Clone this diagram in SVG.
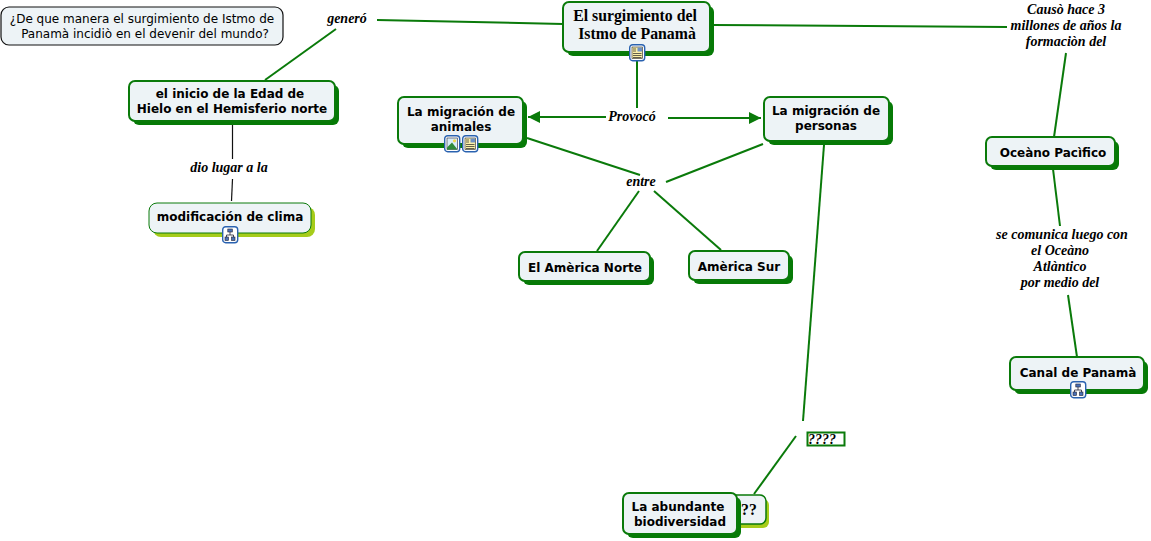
<svg xmlns="http://www.w3.org/2000/svg" width="1151" height="541" viewBox="0 0 1151 541">
<style>
.s{fill:#067a06}.l{fill:#a6cc1a}
.b{fill:#edf3f6;stroke:#0a7a0a;stroke-width:2}
.t{font:bold 12px "DejaVu Sans",Verdana,sans-serif;fill:#000;text-anchor:middle}
.m{font:bold 15.800px "Liberation Serif",serif;fill:#000;text-anchor:middle}
.c{font:italic bold 14px "Liberation Serif",serif;fill:#000;text-anchor:middle}
.q{font:12px "DejaVu Sans",Verdana,sans-serif;fill:#000;text-anchor:middle}
.g path,.g line{stroke:#0a7a0a;stroke-width:2;fill:none}
.g .k{stroke:#111;stroke-width:1.2}
.ic{fill:#fff;stroke:#2a62b0;stroke-width:1.4}
</style>
<defs>
<g id="doc"><rect class="ic" x="0.700" y="0.700" width="15" height="16" rx="3"/><rect x="3" y="3" width="10.500" height="11.500" fill="#fbf0a8" stroke="#222" stroke-width=".6"/><path d="M4 5h3M4 7h3M4 9.500h8.500M4 11.500h8.500M4 13.500h8.500" stroke="#222" stroke-width=".7"/><rect x="8.500" y="3.500" width="4.500" height="4" fill="#6d8fc4"/></g>
<g id="pic"><rect class="ic" x="0.700" y="0.700" width="15" height="16" rx="3"/><rect x="3" y="3" width="10.500" height="11.500" fill="#d8ecf8" stroke="#223" stroke-width=".6"/><path d="M3 14.500v-2l5-5 5.500 7z" fill="#2f8a3a"/><circle cx="10.500" cy="5.800" r="1.600" fill="#f2d84a"/></g>
<g id="map"><rect class="ic" x="0.700" y="0.700" width="15" height="16" rx="3"/><path d="M8 6v3M4.500 11V9h7v2" stroke="#223" stroke-width=".8" fill="none"/><rect x="5.800" y="3" width="4.500" height="3" fill="#4a70b5" stroke="#223" stroke-width=".6"/><rect x="3" y="11" width="3.500" height="3.500" fill="#4a70b5" stroke="#223" stroke-width=".6"/><rect x="9.500" y="11" width="3.500" height="3.500" fill="#4a70b5" stroke="#223" stroke-width=".6"/></g>
<marker id="a" markerUnits="userSpaceOnUse" markerWidth="12" markerHeight="12" refX="12" refY="6" orient="auto"><path d="M0 0L12 6L0 12z" fill="#0a7a0a"/></marker>
</defs>
<g id="connectors" class="g">
<path d="M377 20L563 24"/>
<path d="M336 29L265 80"/>
<path d="M712 25L1007 27"/>
<path d="M637 60V108"/>
<path d="M606 117H528" marker-end="url(#a)"/>
<path d="M668 118H761" marker-end="url(#a)"/>
<path d="M527 138L640 175"/>
<path d="M763 144L666 182"/>
<path d="M639 191L597 251"/>
<path d="M654 191L721 250"/>
<path d="M824 145L803 421"/>
<path d="M796 436L754 494"/>
<path d="M1066 53L1054 137"/>
<path d="M1053 169L1060 226"/>
<path d="M1068 295L1077 357"/>
<line class="k" x1="232.500" y1="125" x2="232.500" y2="159"/>
<line class="k" x1="232.500" y1="179" x2="231.500" y2="201"/>
</g>
<g id="n-pregunta"><rect x="1" y="7" width="282" height="38" rx="8" fill="#edf3f6" stroke="#111" stroke-width="1.200"/><text class="q" x="142" y="23">¿De que manera el surgimiento de Istmo de</text><text class="q" x="145" y="38">Panamà incidiò en el devenir del mundo?</text></g>
<g id="n-inicio"><rect class="s" x="133" y="85" width="206" height="40" rx="6"/><rect class="b" x="129" y="81" width="206" height="40" rx="6"/><text class="t" x="230" y="98">el inicio de la Edad de</text><text class="t" x="232" y="113">Hielo en el Hemisferio norte</text></g>
<g id="n-clima"><rect class="l" x="153" y="207" width="162" height="30" rx="8"/><rect x="149" y="203" width="162" height="30" rx="8" fill="#edf3f6" stroke="#0a7a0a" stroke-width="1"/><text class="t" x="230" y="221">modificación de clima</text><use href="#map" x="222" y="226"/></g>
<g id="n-istmo"><rect class="s" x="567" y="6" width="147" height="50" rx="6"/><rect class="b" x="563" y="2" width="147" height="50" rx="6"/><text class="m" x="635" y="21">El surgimiento del</text><text class="m" x="637" y="39">Istmo de Panamà</text><use href="#doc" x="629" y="44"/></g>
<g id="n-animales"><rect class="s" x="402" y="101" width="125" height="47" rx="6"/><rect class="b" x="398" y="97" width="125" height="47" rx="6"/><text class="t" x="461" y="116">La migración de</text><text class="t" x="461" y="131">animales</text><use href="#pic" x="444" y="135"/><use href="#doc" x="462" y="135"/></g>
<g id="n-personas"><rect class="s" x="768" y="101" width="125" height="44" rx="6"/><rect class="b" x="764" y="97" width="125" height="44" rx="6"/><text class="t" x="826" y="115">La migración de</text><text class="t" x="826" y="130">personas</text></g>
<g id="n-norte"><rect class="s" x="523" y="256" width="131" height="29" rx="6"/><rect class="b" x="519" y="252" width="131" height="29" rx="6"/><text class="t" x="585" y="272">El Amèrica Norte</text></g>
<g id="n-sur"><rect class="s" x="693" y="255" width="100" height="29" rx="6"/><rect class="b" x="689" y="251" width="100" height="29" rx="6"/><text class="t" x="739" y="271">Amèrica Sur</text></g>
<g id="n-pacifico"><rect class="s" x="990" y="141" width="129" height="29" rx="6"/><rect class="b" x="986" y="137" width="129" height="29" rx="6"/><text class="t" x="1053" y="157">Oceàno Pacìfico</text></g>
<g id="n-canal"><rect class="s" x="1014" y="361" width="134" height="33" rx="6"/><rect class="b" x="1010" y="357" width="134" height="33" rx="6"/><text class="t" x="1078" y="377">Canal de Panamà</text><use href="#map" x="1070" y="381"/></g>
<g id="n-qq"><rect class="l" x="705" y="499" width="64" height="29" rx="6"/><rect x="701" y="495" width="65" height="29" rx="6" fill="#edf3f6" stroke="#0a7a0a" stroke-width="1.500"/><text class="m" x="749" y="515">??</text></g>
<g id="n-abundante"><rect class="s" x="627" y="497" width="114" height="41" rx="6"/><rect class="b" x="623" y="493" width="114" height="41" rx="6"/><text class="t" x="678" y="511">La abundante</text><text class="t" x="680" y="526">biodiversidad</text></g>
<g id="n-qqqq"><rect x="807.500" y="432.500" width="37" height="13" fill="#fff" stroke="#0a7a0a" stroke-width="2"/><text class="c" x="822" y="443.500">????</text></g>
<g id="l-genero"><text class="c" x="347" y="23">generó</text></g>
<g id="l-provoco"><text class="c" x="632" y="121">Provocó</text></g>
<g id="l-entre"><text class="c" x="641" y="186">entre</text></g>
<g id="l-dio"><text class="c" x="229" y="172">dio lugar a la</text></g>
<g id="l-causo"><text class="c" x="1066" y="14">Causò hace 3</text><text class="c" x="1066" y="30">millones de años la</text><text class="c" x="1066" y="46">formaciòn del</text></g>
<g id="l-comunica"><text class="c" x="1062" y="239">se comunica luego con</text><text class="c" x="1060" y="255">el Oceàno</text><text class="c" x="1060" y="271">Atlàntico</text><text class="c" x="1060" y="287">por medio del</text></g>
</svg>
